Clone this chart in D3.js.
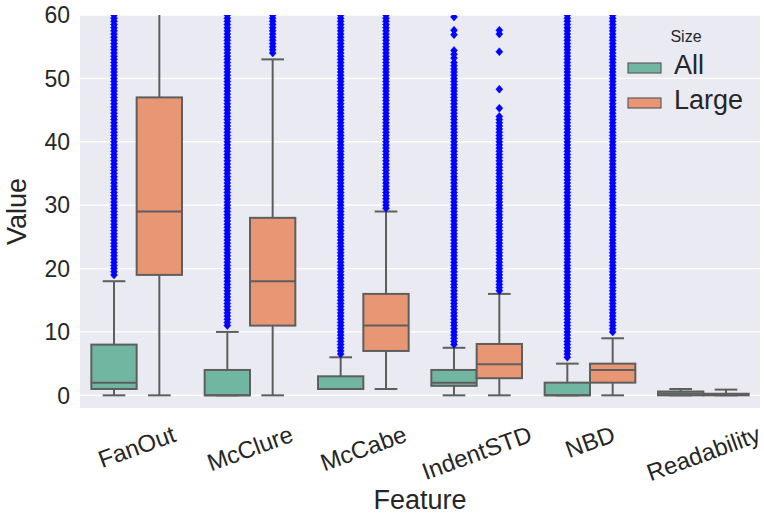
<!DOCTYPE html>
<html>
<head>
<meta charset="utf-8">
<script src="https://cdn.jsdelivr.net/npm/d3@7"></script>
<style>
  body { margin: 0; background: #fff; }
  text { font-family: "Liberation Sans", Arial, sans-serif; fill: #262626; }
</style>
</head>
<body>
<div id="chart"></div>
<script>
// categories and hues
const features = ["FanOut", "McClure", "McCabe", "IndentSTD", "NBD", "Readability"];
const sizes = ["All", "Large"];
const yTicks = [0, 10, 20, 30, 40, 50, 60];

// box statistics (lower whisker, Q1, median, Q3, upper whisker) per feature
const allLo = [0, 0, 1, 0, 0, 0];
const allQ1 = [1, 0, 1, 1.5, 0, 0];
const allMed = [2, 0, 1, 2, 0, 0.3];
const allQ3 = [8, 4, 3, 4, 2, 0.6];
const allHi = [18, 10, 6, 7.5, 5, 1];

const largeLo = [0, 0, 1, 0, 0, 0];
const largeQ1 = [19, 11, 7, 2.7, 2, 0];
const largeMed = [29, 18, 11, 4.9, 4, 0.1];
const largeQ3 = [47, 28, 16, 8.1, 5, 0.25];
const largeHi = [72, 53, 29, 16, 9, 0.9];

// outliers (fliers) visible in the 0-60 window
const outAll = [
  [19,19.5,20,20.5,21,21.5,22,22.5,23,23.5,24,24.5,25,25.5,26,26.5,27,27.5,28,28.5,29,29.5,30,30.5,31,31.5,32,32.5,33,33.5,34,34.5,35,35.5,36,36.5,37,37.5,38,38.5,39,39.5,40,40.5,41,41.5,42,42.5,43,43.5,44,44.5,45,45.5,46,46.5,47,47.5,48,48.5,49,49.5,50,50.5,51,51.5,52,52.5,53,53.5,54,54.5,55,55.5,56,56.5,57,57.5,58,58.5,59,59.5,60],
  [11,11.5,12,12.5,13,13.5,14,14.5,15,15.5,16,16.5,17,17.5,18,18.5,19,19.5,20,20.5,21,21.5,22,22.5,23,23.5,24,24.5,25,25.5,26,26.5,27,27.5,28,28.5,29,29.5,30,30.5,31,31.5,32,32.5,33,33.5,34,34.5,35,35.5,36,36.5,37,37.5,38,38.5,39,39.5,40,40.5,41,41.5,42,42.5,43,43.5,44,44.5,45,45.5,46,46.5,47,47.5,48,48.5,49,49.5,50,50.5,51,51.5,52,52.5,53,53.5,54,54.5,55,55.5,56,56.5,57,57.5,58,58.5,59,59.5,60],
  [6.5,7,7.5,8,8.5,9,9.5,10,10.5,11,11.5,12,12.5,13,13.5,14,14.5,15,15.5,16,16.5,17,17.5,18,18.5,19,19.5,20,20.5,21,21.5,22,22.5,23,23.5,24,24.5,25,25.5,26,26.5,27,27.5,28,28.5,29,29.5,30,30.5,31,31.5,32,32.5,33,33.5,34,34.5,35,35.5,36,36.5,37,37.5,38,38.5,39,39.5,40,40.5,41,41.5,42,42.5,43,43.5,44,44.5,45,45.5,46,46.5,47,47.5,48,48.5,49,49.5,50,50.5,51,51.5,52,52.5,53,53.5,54,54.5,55,55.5,56,56.5,57,57.5,58,58.5,59,59.5,60],
  [8,8.5,9,9.5,10,10.5,11,11.5,12,12.5,13,13.5,14,14.5,15,15.5,16,16.5,17,17.5,18,18.5,19,19.5,20,20.5,21,21.5,22,22.5,23,23.5,24,24.5,25,25.5,26,26.5,27,27.5,28,28.5,29,29.5,30,30.5,31,31.5,32,32.5,33,33.5,34,34.5,35,35.5,36,36.5,37,37.5,38,38.5,39,39.5,40,40.5,41,41.5,42,42.5,43,43.5,44,44.5,45,45.5,46,46.5,47,47.5,48,48.5,49,49.5,50,50.5,51,51.5,52,52.5,53.2,53.8,54.4,56.9,57.6,59.7],
  [6,6.5,7,7.5,8,8.5,9,9.5,10,10.5,11,11.5,12,12.5,13,13.5,14,14.5,15,15.5,16,16.5,17,17.5,18,18.5,19,19.5,20,20.5,21,21.5,22,22.5,23,23.5,24,24.5,25,25.5,26,26.5,27,27.5,28,28.5,29,29.5,30,30.5,31,31.5,32,32.5,33,33.5,34,34.5,35,35.5,36,36.5,37,37.5,38,38.5,39,39.5,40,40.5,41,41.5,42,42.5,43,43.5,44,44.5,45,45.5,46,46.5,47,47.5,48,48.5,49,49.5,50,50.5,51,51.5,52,52.5,53,53.5,54,54.5,55,55.5,56,56.5,57,57.5,58,58.5,59,59.5,60],
  []
];
const outLarge = [
  [],
  [54,54.5,55,55.5,56,56.5,57,57.5,58,58.5,59,59.5,60],
  [29.5,30,30.5,31,31.5,32,32.5,33,33.5,34,34.5,35,35.5,36,36.5,37,37.5,38,38.5,39,39.5,40,40.5,41,41.5,42,42.5,43,43.5,44,44.5,45,45.5,46,46.5,47,47.5,48,48.5,49,49.5,50,50.5,51,51.5,52,52.5,53,53.5,54,54.5,55,55.5,56,56.5,57,57.5,58,58.5,59,59.5,60],
  [16.5,17,17.5,18,18.5,19,19.5,20,20.5,21,21.5,22,22.5,23,23.5,24,24.5,25,25.5,26,26.5,27,27.5,28,28.5,29,29.5,30,30.5,31,31.5,32,32.5,33,33.5,34,34.5,35,35.5,36,36.5,37,37.5,38,38.5,39,39.5,40,40.5,41,41.5,42,42.5,43,43.5,44,45.3,48.3,54.2,57,57.6],
  [10,10.5,11,11.5,12,12.5,13,13.5,14,14.5,15,15.5,16,16.5,17,17.5,18,18.5,19,19.5,20,20.5,21,21.5,22,22.5,23,23.5,24,24.5,25,25.5,26,26.5,27,27.5,28,28.5,29,29.5,30,30.5,31,31.5,32,32.5,33,33.5,34,34.5,35,35.5,36,36.5,37,37.5,38,38.5,39,39.5,40,40.5,41,41.5,42,42.5,43,43.5,44,44.5,45,45.5,46,46.5,47,47.5,48,48.5,49,49.5,50,50.5,51,51.5,52,52.5,53,53.5,54,54.5,55,55.5,56,56.5,57,57.5,58,58.5,59,59.5,60],
  []
];

const margin = { top: 15, right: 4, bottom: 112, left: 80 },
  width = 764 - margin.left - margin.right,
  height = 520 - margin.top - margin.bottom;

const svg = d3
  .select("#chart")
  .append("svg")
  .attr("width", 764)
  .attr("height", 520);

const g = svg
  .append("g")
  .attr("transform", "translate(" + margin.left + "," + margin.top + ")");

svg
  .append("defs")
  .append("clipPath")
  .attr("id", "plotclip")
  .append("rect")
  .attr("width", width)
  .attr("height", height);

// background
g.append("rect").attr("width", width).attr("height", height).attr("fill", "#eaeaf2");

const x = d3.scaleBand().domain(features).range([0, width]);
const xHue = d3
  .scaleBand()
  .domain(sizes)
  .range([0, x.bandwidth()])
  .paddingInner(0)
  .paddingOuter(0.25);
const y = d3.scaleLinear().domain([-2, 60]).range([height, 0]);

const color = d3.scaleOrdinal().domain(sizes).range(["#71b6a1", "#e99675"]);
const lineColor = "#5e5e5e";

// grid
g.append("g")
  .selectAll("line")
  .data(yTicks)
  .enter()
  .append("line")
  .attr("x1", 0)
  .attr("x2", width)
  .attr("y1", (d) => y(d))
  .attr("y2", (d) => y(d))
  .attr("stroke", "#fff")
  .attr("stroke-width", 1.3);

// y tick labels
g.append("g")
  .selectAll("text")
  .data(yTicks)
  .enter()
  .append("text")
  .attr("x", -10)
  .attr("y", (d) => y(d))
  .attr("dy", "0.36em")
  .attr("text-anchor", "end")
  .attr("font-size", 23)
  .text((d) => d);

// box records
var boxes = [];
features.forEach(function (f, i) {
  boxes.push({ f: f, s: "All", lo: allLo[i], q1: allQ1[i], med: allMed[i], q3: allQ3[i], hi: allHi[i], out: outAll[i] });
  boxes.push({ f: f, s: "Large", lo: largeLo[i], q1: largeQ1[i], med: largeMed[i], q3: largeQ3[i], hi: largeHi[i], out: outLarge[i] });
});

const plot = g.append("g").attr("clip-path", "url(#plotclip)");
const bw = xHue.bandwidth();

const bx = plot
  .selectAll("g.box")
  .data(boxes)
  .enter()
  .append("g")
  .attr("class", "box")
  .attr("transform", (d) => "translate(" + (x(d.f) + xHue(d.s)) + ",0)");

// whiskers
bx.append("line")
  .attr("x1", bw / 2)
  .attr("x2", bw / 2)
  .attr("y1", (d) => y(d.q3))
  .attr("y2", (d) => y(d.hi))
  .attr("stroke", lineColor)
  .attr("stroke-width", 2);
bx.append("line")
  .attr("x1", bw / 2)
  .attr("x2", bw / 2)
  .attr("y1", (d) => y(d.q1))
  .attr("y2", (d) => y(d.lo))
  .attr("stroke", lineColor)
  .attr("stroke-width", 2);
// caps
["hi", "lo"].forEach(function (k) {
  bx.append("line")
    .attr("x1", bw / 4)
    .attr("x2", (bw * 3) / 4)
    .attr("y1", (d) => y(d[k]))
    .attr("y2", (d) => y(d[k]))
    .attr("stroke", lineColor)
    .attr("stroke-width", 2);
});

// boxes
bx.append("rect")
  .attr("x", 0)
  .attr("width", bw)
  .attr("y", (d) => y(d.q3))
  .attr("height", (d) => y(d.q1) - y(d.q3))
  .attr("fill", (d) => color(d.s))
  .attr("stroke", lineColor)
  .attr("stroke-width", 2);

// medians
bx.append("line")
  .attr("x1", 0)
  .attr("x2", bw)
  .attr("y1", (d) => y(d.med))
  .attr("y2", (d) => y(d.med))
  .attr("stroke", lineColor)
  .attr("stroke-width", 2);

// fliers
bx.selectAll("path.flier")
  .data((d) => d.out)
  .enter()
  .append("path")
  .attr("class", "flier")
  .attr("d", "M0,-4L3.5,0L0,4L-3.5,0Z")
  .attr("transform", (v) => "translate(" + bw / 2 + "," + y(v) + ")")
  .attr("fill", "#0000ff")
  .attr("stroke", "#0000ff")
  .attr("stroke-width", 0.5);

// x tick labels, rotated 20deg, bbox centred under the category
const ang = (20 * Math.PI) / 180;
g.append("g")
  .selectAll("text")
  .data(features)
  .enter()
  .append("text")
  .attr("font-size", 24)
  .attr("text-anchor", "middle")
  .attr("dominant-baseline", "central")
  .text((d) => d)
  .each(function (d) {
    const w = this.getComputedTextLength();
    const h = 24 * 1.15;
    const H = w * Math.sin(ang) + h * Math.cos(ang);
    const cx = x(d) + x.bandwidth() / 2;
    const cy = height + 12 + H / 2;
    d3.select(this).attr("transform", "translate(" + cx + "," + cy + ") rotate(-20)");
  });

// axis titles
g.append("text")
  .attr("x", width / 2)
  .attr("y", height + 101)
  .attr("text-anchor", "middle")
  .attr("font-size", 27)
  .text("Feature");

g.append("text")
  .attr("transform", "translate(" + (-54) + "," + height / 2 + ") rotate(-90)")
  .attr("text-anchor", "middle")
  .attr("font-size", 27)
  .text("Value");

// legend
const legend = svg.append("g");
legend
  .append("text")
  .attr("x", 686)
  .attr("y", 42)
  .attr("text-anchor", "middle")
  .attr("font-size", 16)
  .text("Size");

const items = legend
  .selectAll("g.item")
  .data(sizes)
  .enter()
  .append("g")
  .attr("class", "item")
  .attr("transform", (d, i) => "translate(628," + (63 + i * 35) + ")");
items
  .append("rect")
  .attr("width", 33)
  .attr("height", 10)
  .attr("fill", (d) => color(d))
  .attr("stroke", lineColor)
  .attr("stroke-width", 1.2);
items
  .append("text")
  .attr("x", 46)
  .attr("y", 11)
  .attr("font-size", 27)
  .text((d) => d);
</script>
</body>
</html>
